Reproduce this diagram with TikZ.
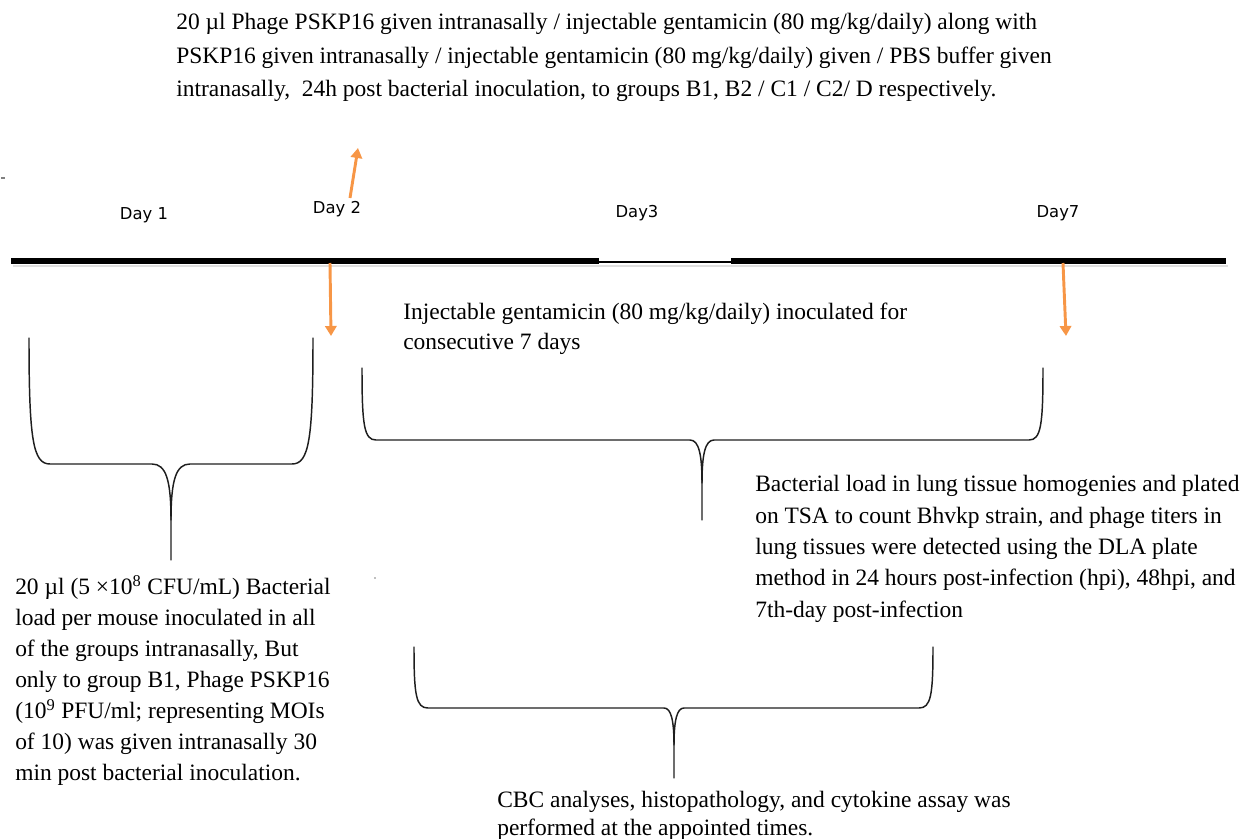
\documentclass[tikz,border=0pt]{standalone}
\usepackage{fontspec}
\setmainfont{Liberation Serif}
\newfontfamily\dayfont{DejaVu Sans}
\usetikzlibrary{arrows.meta}
\definecolor{orangeA}{RGB}{247,150,70}
\definecolor{braceC}{RGB}{30,30,30}
\begin{document}
\begin{tikzpicture}[x=0.75pt,y=-0.75pt,
  txt/.style={font=\fontsize{17.6}{23.25}\selectfont, align=left, inner sep=0pt, anchor=north west},
  daylbl/.style={font=\dayfont\fontsize{12.3}{14}\selectfont, inner sep=0pt, anchor=base},
  oarrow/.style={draw=orangeA, line width=2.2pt, -{Triangle[width=8.5pt,length=7.5pt]}},
  bracepath/.style={draw=braceC, line width=1.1pt, line cap=round},
  tl/.style={line width=4.5pt}]
\useasboundingbox (0,0) rectangle (1247,839);

% timeline
\coordinate (t0) at (11,260.5);
\coordinate (g0) at (599,260.5);
\coordinate (g1) at (731,260.5);
\coordinate (t1) at (1226,260.5);
\draw[gray!25, line width=1.6pt] (13,266) -- (1228,266);
\draw[tl] (t0) -- (g0);
\draw[line width=1.2pt] (599,262) -- (731,262);
\draw[tl] (g1) -- (t1);

% day labels
\node[daylbl] (day1) at (144,219) {Day 1};
\node[daylbl] (day2) at (337,213) {Day 2};
\node[daylbl] (day3) at (637,217) {Day3};
\node[daylbl] (day7) at (1058,217) {Day7};

% texts
\node[txt, font=\fontsize{17.6}{25.2}\selectfont] (top) at (176,13) {20 µl Phage PSKP16 given intranasally / injectable gentamicin (80 mg/kg/daily) along with\\PSKP16 given intranasally / injectable gentamicin (80 mg/kg/daily) given / PBS buffer given\\intranasally,\ \ 24h post bacterial inoculation, to groups B1, B2 / C1 / C2/ D respectively.};

\node[txt, font=\fontsize{17.6}{22.5}\selectfont] (inj) at (403,303) {Injectable gentamicin (80 mg/kg/daily) inoculated for\\consecutive 7 days};

\node[txt] (left) at (15,575) {20 µl (5 ×10\textsuperscript{8} CFU/mL) Bacterial\\load per mouse inoculated in all\\of the groups intranasally, But\\only to group B1, Phage PSKP16\\(10\textsuperscript{9} PFU/ml; representing MOIs\\of 10) was given intranasally 30\\min post bacterial inoculation.};

\node[txt, font=\fontsize{17.6}{23.6}\selectfont] (right) at (755,475) {Bacterial load in lung tissue homogenies and plated\\on TSA to count Bhvkp strain, and phage titers in\\lung tissues were detected using the DLA plate\\method in 24 hours post-infection (hpi), 48hpi, and\\7th-day post-infection};

\node[txt, font=\fontsize{17.6}{21}\selectfont] (cbc) at (497,791) {CBC analyses, histopathology, and cytokine assay was\\performed at the appointed times.};

% arrows
\coordinate (a2s) at (350,198);
\coordinate (a2e) at (358,148);
\draw[oarrow] (a2s) -- (a2e);
\coordinate (d2s) at (330,263);
\coordinate (d2e) at (331,336);
\draw[oarrow] (d2s) -- (d2e);
\coordinate (d7s) at (1063,263);
\coordinate (d7e) at (1066,336);
\draw[oarrow] (d7s) -- (d7e);

% braces
\draw[bracepath] (29,338) .. controls (29,440) and (33,464) .. (50,464) -- (152,464) .. controls (166,464) and (171,480) .. (171,520) -- (171,560);
\draw[bracepath] (313,338) .. controls (313,440) and (309,464) .. (292,464) -- (190,464) .. controls (176,464) and (171,480) .. (171,520);

\draw[bracepath] (362,368) .. controls (362,425) and (364,440) .. (376,440) -- (690,440) .. controls (699,440) and (702,455) .. (702,483) -- (702,520);
\draw[bracepath] (1043,368) .. controls (1043,425) and (1041,440) .. (1029,440) -- (714,440) .. controls (705,440) and (702,455) .. (702,483);

\draw[bracepath] (414,647) .. controls (414,695) and (416,708) .. (428,708) -- (664,708) .. controls (671,708) and (674,720) .. (674,745) -- (674,778);
\draw[bracepath] (933,647) .. controls (933,695) and (931,708) .. (919,708) -- (684,708) .. controls (677,708) and (674,720) .. (674,745);

% stray marks
\draw[gray, line width=0.8pt] (1,178) -- (5,178);
\fill[gray] (375,578) circle (0.8);
\end{tikzpicture}
\end{document}
